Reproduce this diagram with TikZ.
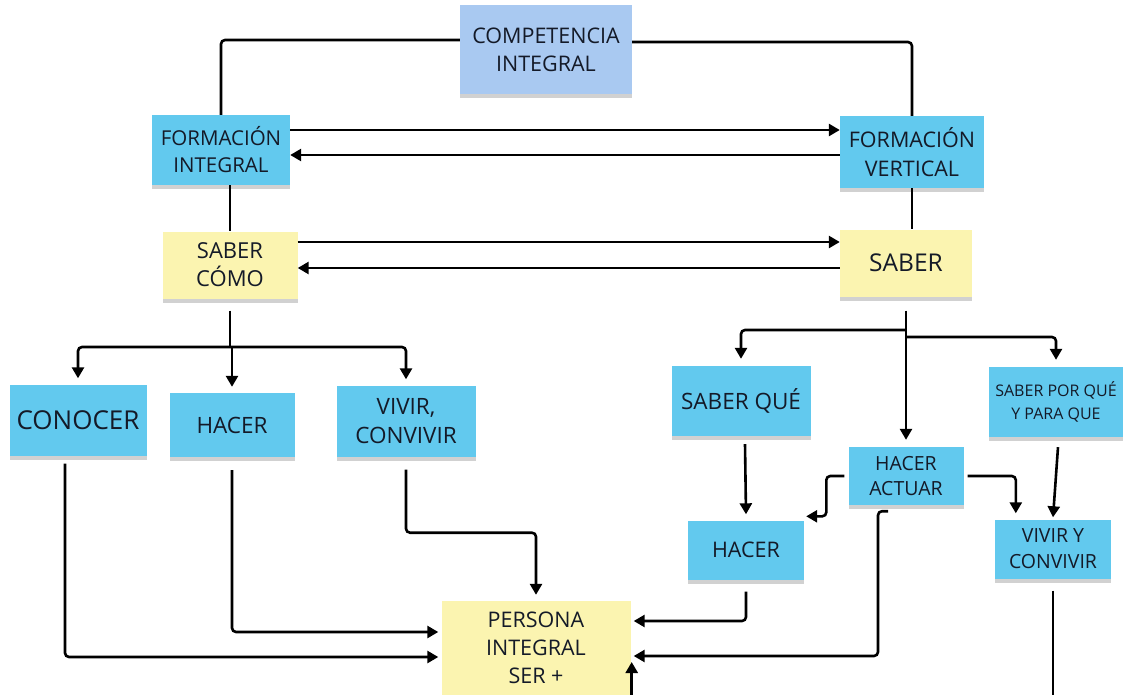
\documentclass[tikz,border=0pt]{standalone}
\usepackage{fontspec}
\setmainfont{Open Sans}
\usepackage{xcolor}
\usetikzlibrary{arrows.meta,shadows}

\definecolor{noteblue}{HTML}{62C9EE}
\definecolor{noteyellow}{HTML}{FBF4B0}
\definecolor{notesky}{HTML}{A9C9F1}
\definecolor{notetext}{HTML}{141A28}

\newcommand{\fs}[2]{\fontsize{#1}{#2}\selectfont}

\begin{document}
\begin{tikzpicture}[x=1pt,y=-1pt,
  note/.style={rectangle, inner sep=2pt, align=center, text=notetext,
    font=\fs{20}{27},
    drop shadow={shadow xshift=0pt,shadow yshift=-4pt,fill=black,opacity=0.18}},
  bluenote/.style={note, fill=noteblue},
  yellownote/.style={note, fill=noteyellow},
  skynote/.style={note, fill=notesky},
  conn/.style={draw=black, line width=2.6pt, rounded corners=4pt},
  arrow/.style={conn, -{Triangle[length=11pt,width=12pt]}}]
\useasboundingbox (0,0) rectangle (1123,695);
\coordinate (bot) at (0,700);

% top
\node[skynote, minimum width=172pt, minimum height=89pt, font=\fs{21.5}{28}] (ci) at (546,50) {COMPETENCIA\\INTEGRAL};
\node[bluenote, minimum width=138pt, minimum height=70pt, font=\fs{20.5}{27}] (fi) at (221,150) {FORMACIÓN\\INTEGRAL};
\node[bluenote, minimum width=144pt, minimum height=72pt, font=\fs{21.5}{29}] (fv) at (912,152) {FORMACIÓN\\VERTICAL};
\node[yellownote, minimum width=135pt, minimum height=67pt, font=\fs{22}{28}] (sc) at (230,265) {SABER\\CÓMO};
\node[yellownote, minimum width=132pt, minimum height=67pt, font=\fs{24.5}{28}] (sab) at (906,263) {SABER};

% left branch
\node[bluenote, minimum width=137pt, minimum height=71pt, font=\fs{26}{28}] (con) at (78,420) {CONOCER};
\node[bluenote, minimum width=125pt, minimum height=64pt, font=\fs{22.5}{28}] (hl) at (232,425) {HACER};
\node[bluenote, minimum width=139pt, minimum height=71pt, font=\fs{22.5}{29}] (vc) at (406,421) {VIVIR,\\CONVIVIR};

% right branch
\node[bluenote, minimum width=139pt, minimum height=70pt, font=\fs{22.5}{28}] (sq) at (741,401) {SABER QUÉ};
\node[bluenote, minimum width=115pt, minimum height=58pt, font=\fs{19.5}{25}] (ha) at (906,476) {HACER\\ACTUAR};
\node[bluenote, minimum width=134pt, minimum height=70pt, font=\fs{16}{23}] (spq) at (1056,402) {SABER POR QUÉ\\Y PARA QUE};
\node[bluenote, minimum width=116pt, minimum height=59pt, font=\fs{21.5}{28}] (hr) at (746,550) {HACER};
\node[bluenote, minimum width=116pt, minimum height=59pt, font=\fs{19.5}{26}] (vy) at (1053,549) {VIVIR Y\\CONVIVIR};

% bottom
\node[yellownote, minimum width=189pt, minimum height=94pt, font=\fs{21.5}{28}] (pi) at (536,648) {PERSONA\\INTEGRAL\\SER +};

% connectors
\draw[conn] (ci.west |- 0,40) -| (fi.north);
\draw[conn] (ci.east |- 0,42) -| (fv.north);
\draw[arrow] (fi.east |- 0,130) -- (fv.west |- 0,130);
\draw[arrow] (fv.west |- 0,155) -- (fi.east |- 0,155);
\draw[conn] (sc.north |- fi.south) -- (sc.north);
\draw[conn] (fv.south) -- (fv.south |- sab.north);
\draw[arrow] (sc.east |- 0,242) -- (sab.west |- 0,242);
\draw[arrow] (sab.west |- 0,268) -- (sc.east |- 0,268);

\draw[conn] ([yshift=-12pt]sc.south) -- (sc.south |- 0,347);
\draw[arrow] (sc.south |- 0,347) -| ([yshift=6pt]con.north);
\draw[arrow] (sc.south |- 0,347) -| ([yshift=6pt]vc.north);
\draw[arrow] (hl.north |- 0,347) -- ([yshift=6pt]hl.north);

\draw[arrow] ([yshift=-14pt]sab.south) -- ([yshift=7pt]ha.north);
\draw[arrow] (sab.south |- 0,330) -| ([yshift=7pt]sq.north);
\draw[arrow] (sab.south |- 0,337) -| ([yshift=7pt]spq.north);

\draw[arrow] ([xshift=4pt,yshift=-8pt]sq.south) -- ([yshift=6pt]hr.north);
\draw[arrow] ([xshift=-4pt]ha.west) -- ++(-18,0) |- ([shift={(2pt,4pt)}]hr.north east);
\draw[arrow] ([xshift=4pt]ha.east) -| ([shift={(21pt,6pt)}]vy.north west);
\draw[arrow] ([xshift=2pt,yshift=-10pt]spq.south) -- ([yshift=2pt]vy.north);

\draw[arrow] ([shift={(-18pt,-6pt)}]ha.south) -- ++(-10,0) |- ([shift={(3pt,-8pt)}]pi.east);
\draw[arrow] ([yshift=-12pt]hr.south) |- ([shift={(3pt,27pt)}]pi.east);
\draw[conn] ([yshift=-12pt]vy.south) -- (vy.south |- bot);
\draw[arrow] ([xshift=1pt]pi.south east) -- ([shift={(1pt,-14pt)}]pi.east);

\draw[arrow] ([shift={(-13pt,-8pt)}]con.south) |- ([shift={(-3pt,-9pt)}]pi.west);
\draw[arrow] ([yshift=-13pt]hl.south) |- ([shift={(-3pt,16pt)}]pi.west);
\draw[arrow] ([yshift=-13pt]vc.south) -- ++(0,63) -| ([yshift=6pt]pi.north);
\end{tikzpicture}
\end{document}
